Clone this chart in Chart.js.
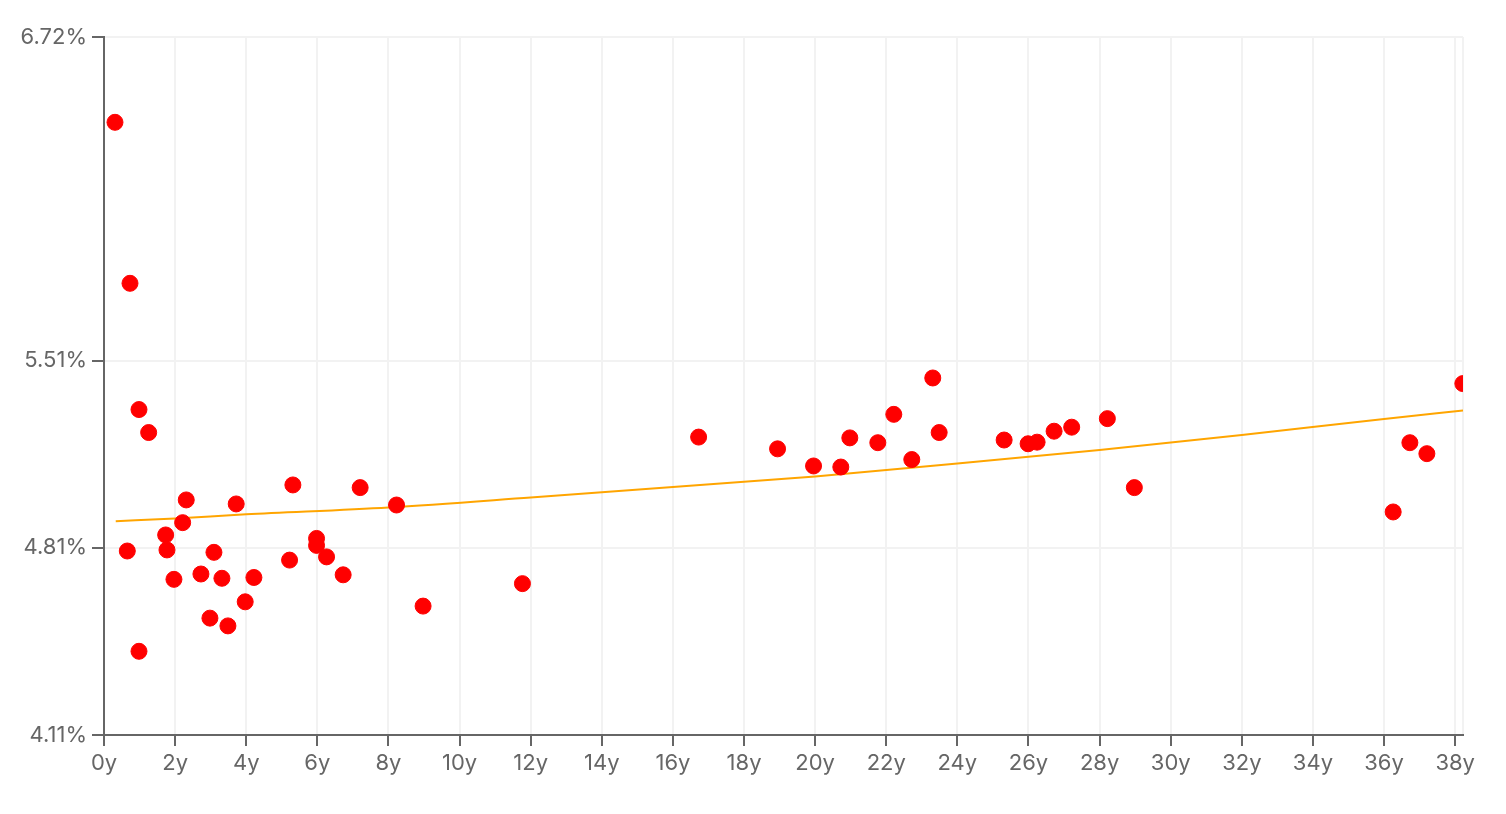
<!DOCTYPE html>
<html>
<head>
<meta charset="utf-8">
<script src="https://cdn.jsdelivr.net/npm/chart.js@4/dist/chart.umd.min.js"></script>
<style>
  html, body { margin: 0; padding: 0; background: #fff; }
  #wrap { width: 1506px; height: 814px; position: relative; }
</style>
</head>
<body>
<div id="wrap"><canvas id="c"></canvas></div>
<script>
// Observed points: maturity (years) and yield (%)
const maturityYears = [0.309, 0.731, 0.655, 0.984, 1.256, 0.984, 1.734, 1.771, 1.967, 2.212,
  2.313, 2.726, 2.979, 3.092, 3.316, 3.485, 3.718, 3.971, 4.216, 5.219,
  5.312, 5.978, 5.978, 6.259, 6.726, 7.204, 8.227, 8.974, 11.768, 16.723,
  18.943, 19.955, 20.722, 20.975, 21.762, 22.212, 22.718, 23.308, 23.488, 25.315,
  25.989, 26.242, 26.720, 27.215, 28.218, 28.977, 36.256, 36.726, 37.204, 38.215];
const yieldPct = [6.401, 5.799, 4.798, 5.327, 5.241, 4.423, 4.858, 4.802, 4.692, 4.904,
  4.989, 4.712, 4.547, 4.793, 4.696, 4.518, 4.974, 4.608, 4.699, 4.764,
  5.045, 4.845, 4.819, 4.776, 4.709, 5.035, 4.970, 4.592, 4.676, 5.224,
  5.180, 5.116, 5.112, 5.221, 5.203, 5.309, 5.140, 5.445, 5.241, 5.213,
  5.199, 5.205, 5.246, 5.261, 5.293, 5.035, 4.944, 5.203, 5.162, 5.424];

// Fitted curve
const curveYears = [0.33, 2, 4, 8, 12, 16, 20, 24, 28, 32, 36, 38.22];
const curvePct = [4.909, 4.920, 4.935, 4.961, 4.998, 5.037, 5.077, 5.125, 5.176, 5.232, 5.292, 5.323];

// Axis ticks
const yTicks = [4.11, 4.81, 5.51, 6.72];
const xTicks = [0, 2, 4, 6, 8, 10, 12, 14, 16, 18, 20, 22, 24, 26, 28, 30, 32, 34, 36, 38];
const xMax = 38.22;

const pts = maturityYears.map((x, i) => ({ x: x, y: yieldPct[i] }));
const curve = curveYears.map((x, i) => ({ x: x, y: curvePct[i] }));

const FONT = { family: 'Inter, "Noto Sans", sans-serif', size: 22 };
const AXIS = '#666666';
const GRID = '#f2f2f2';

new Chart(document.getElementById('c'), {
  type: 'scatter',
  data: {
    datasets: [
      {
        label: 'curve',
        data: curve,
        showLine: true,
        borderColor: '#ffa500',
        borderWidth: 2,
        pointRadius: 0,
        pointHoverRadius: 0,
        fill: false,
        cubicInterpolationMode: 'monotone',
        order: 2
      },
      {
        label: 'points',
        data: pts,
        backgroundColor: '#ff0000',
        borderColor: '#ff0000',
        borderWidth: 1,
        pointRadius: 8,
        order: 1
      }
    ]
  },
  options: {
    responsive: true,
    maintainAspectRatio: false,
    animation: false,
    layout: { padding: { top: 37, right: 43, left: 0, bottom: 0 } },
    plugins: { legend: { display: false }, tooltip: { enabled: false } },
    scales: {
      x: {
        type: 'linear',
        min: 0,
        max: xMax,
        afterBuildTicks: (scale) => {
          scale.ticks = xTicks.map(v => ({ value: v })).concat([{ value: xMax }]);
        },
        afterFit: (scale) => { scale.height = 79; },
        grid: {
          color: GRID,
          lineWidth: 2,
          tickLength: 11,
          tickWidth: 2,
          tickColor: (ctx) => (ctx.tick && ctx.tick.value === xMax) ? 'rgba(0,0,0,0)' : AXIS
        },
        border: { display: true, color: AXIS, width: 2 },
        ticks: {
          autoSkip: false,
          maxRotation: 0,
          color: AXIS,
          font: FONT,
          padding: 4,
          callback: (v) => (v === xMax ? '' : v + 'y')
        }
      },
      y: {
        type: 'linear',
        min: yTicks[0],
        max: yTicks[yTicks.length - 1],
        afterBuildTicks: (scale) => {
          scale.ticks = yTicks.map(v => ({ value: v }));
        },
        afterFit: (scale) => { scale.width = 104; },
        grid: {
          color: GRID,
          lineWidth: 2,
          tickLength: 12,
          tickWidth: 2,
          tickColor: AXIS
        },
        border: { display: true, color: AXIS, width: 2 },
        ticks: {
          autoSkip: false,
          color: AXIS,
          font: FONT,
          padding: 5,
          callback: (v) => Number(v).toFixed(2) + '%'
        }
      }
    }
  }
});
</script>
</body>
</html>
